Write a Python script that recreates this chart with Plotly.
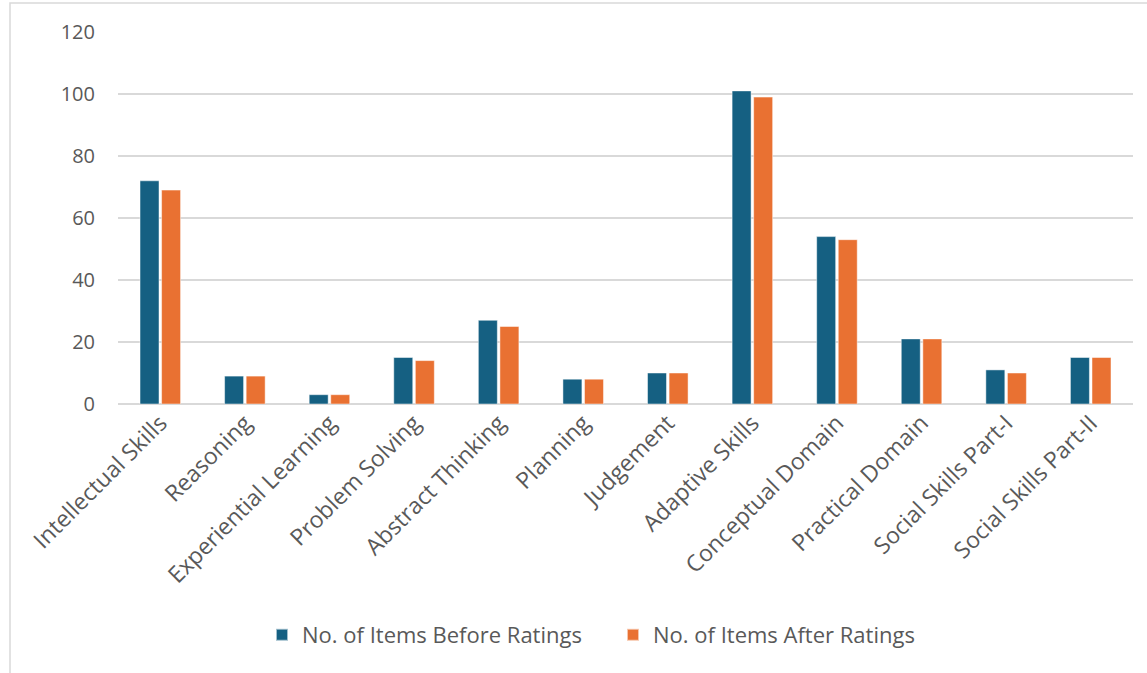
import plotly.graph_objects as go

categories = ["Intellectual Skills", "Reasoning", "Experiential Learning", "Problem Solving",
              "Abstract Thinking", "Planning", "Judgement", "Adaptive Skills",
              "Conceptual Domain", "Practical Domain", "Social Skills Part-I", "Social Skills Part-II"]
before_ratings = [72, 9, 3, 15, 27, 8, 10, 101, 54, 21, 11, 15]
after_ratings = [69, 9, 3, 14, 25, 8, 10, 99, 53, 21, 10, 15]
series_names = ["No. of Items Before Ratings", "No. of Items After Ratings"]
y_ticks = [0, 20, 40, 60, 80, 100, 120]

W, H = 1147, 673
L, R, T, B = 118, 14, 32, 269
pw, ph = W - L - R, H - T - B

def px(x):
    return (x - L) / pw

def py(y):
    return (H - B - y) / ph

font_family = "'Open Sans', Arial, sans-serif"
text_color = "#595959"

fig = go.Figure()
fig.add_trace(go.Bar(x=categories, y=before_ratings, name=series_names[0],
                     marker=dict(color="#156082", line=dict(color="rgba(255,255,255,0.6)", width=0.8))))
fig.add_trace(go.Bar(x=categories, y=after_ratings, name=series_names[1],
                     marker=dict(color="#E97132", line=dict(color="rgba(255,255,255,0.6)", width=0.8))))

fig.update_layout(
    width=W, height=H,
    margin=dict(l=L, r=R, t=T, b=B, pad=0),
    paper_bgcolor="white", plot_bgcolor="white",
    barmode="group", bargap=0.49, bargroupgap=0.12,
    font=dict(family=font_family, color=text_color, size=20),
    showlegend=True,
    legend=dict(orientation="h", x=px(262), xanchor="left", y=py(635), yanchor="middle",
                font=dict(size=22, color=text_color), itemwidth=30, traceorder="normal",
                entrywidth=306, entrywidthmode="pixels",
                itemsizing="constant", bgcolor="rgba(0,0,0,0)"),
    xaxis=dict(tickangle=-45, showgrid=False, showline=False, ticks="",
               tickfont=dict(size=23, color=text_color), fixedrange=True),
    yaxis=dict(range=[0, 120], tickvals=y_ticks, showgrid=True, gridcolor="#d9d9d9",
               gridwidth=1.5, zeroline=True, zerolinecolor="#d9d9d9", zerolinewidth=1.5,
               showline=False, ticks="", ticklabelstandoff=22,
               tickfont=dict(size=20, color=text_color)),
    shapes=[dict(type="rect", xref="paper", yref="paper",
                 x0=px(10), x1=px(1160), y0=py(3), y1=py(690),
                 line=dict(color="#d9d9d9", width=1.5), fillcolor="rgba(0,0,0,0)", layer="below")],
)

fig.write_html("out.html", config={"displayModeBar": False})
